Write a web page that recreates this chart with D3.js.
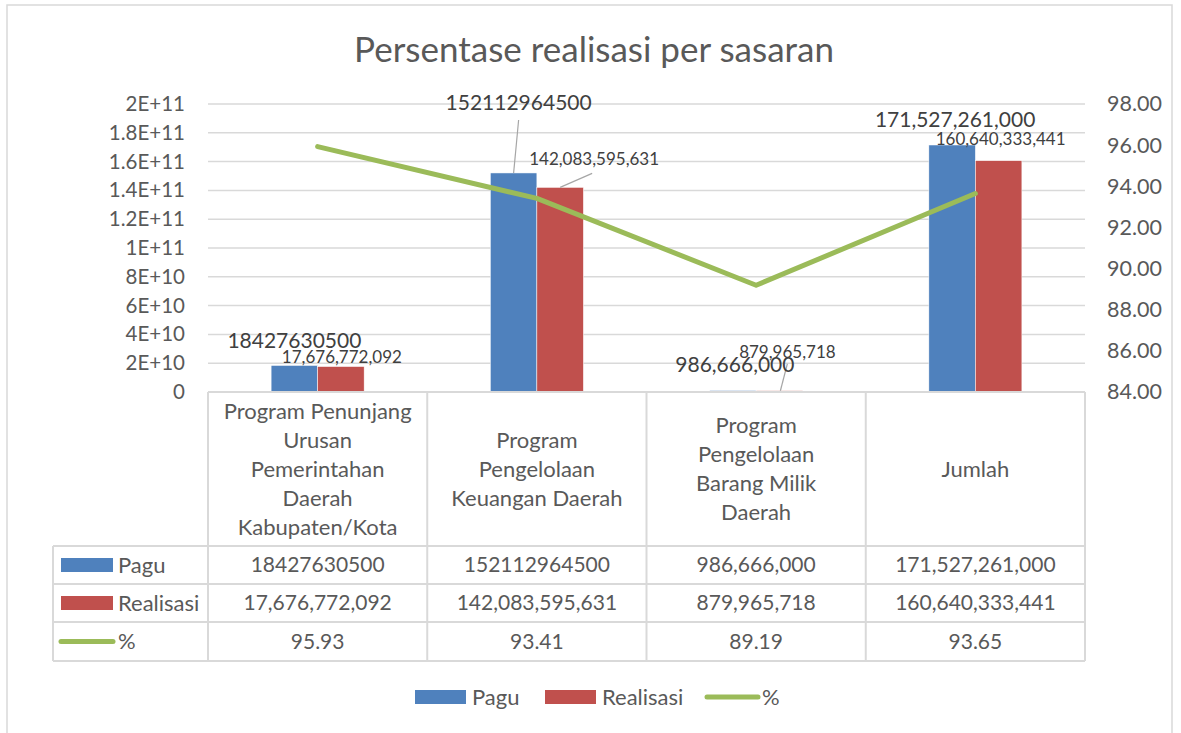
<!DOCTYPE html>
<html>
<head>
<meta charset="utf-8">
<script src="https://cdn.jsdelivr.net/npm/d3@7"></script>
<style>
  body { margin: 0; background: #fff; }
  svg { font-family: Lato, "Open Sans", sans-serif; }
</style>
</head>
<body>
<script>
// chart data
var categories = [
  "Program Penunjang\nUrusan\nPemerintahan\nDaerah\nKabupaten/Kota",
  "Program\nPengelolaan\nKeuangan Daerah",
  "Program\nPengelolaan\nBarang Milik\nDaerah",
  "Jumlah"
];
var pagu = [18427630500, 152112964500, 986666000, 171527261000];
var realisasi = [17676772092, 142083595631, 879965718, 160640333441];
var persen = [95.93, 93.41, 89.19, 93.65];
var paguText = ["18427630500", "152112964500", "986,666,000", "171,527,261,000"];
var realText = ["17,676,772,092", "142,083,595,631", "879,965,718", "160,640,333,441"];
var persenText = ["95.93", "93.41", "89.19", "93.65"];
var leftTicks = [0, 2e10, 4e10, 6e10, 8e10, 1e11, 1.2e11, 1.4e11, 1.6e11, 1.8e11, 2e11];
var leftTickText = ["0", "2E+10", "4E+10", "6E+10", "8E+10", "1E+11", "1.2E+11", "1.4E+11", "1.6E+11", "1.8E+11", "2E+11"];
var rightTicks = [84, 86, 88, 90, 92, 94, 96, 98];

var blue = "#4f81bd", red = "#c0504d", green = "#9bbb59";
var grid = "#d9d9d9", txt = "#595959";

var svg = d3.select("body").append("svg")
  .attr("width", 1181)
  .attr("height", 733);

// outer border
svg.append("rect")
  .attr("x", 7).attr("y", 5).attr("width", 1165).attr("height", 740)
  .attr("fill", "none").attr("stroke", grid).attr("stroke-width", 1.5);

svg.append("text")
  .attr("x", 594).attr("y", 62)
  .attr("text-anchor", "middle")
  .attr("font-size", 35)
  .attr("fill", txt)
  .text("Persentase realisasi per sasaran");

var x = d3.scaleBand().domain(d3.range(categories.length)).range([208, 1085]);
var xs = d3.scaleBand().domain([0, 1]).range([0, x.bandwidth()]).paddingOuter(1.357);
var y = d3.scaleLinear().domain([0, 2e11]).range([392, 104]);
var y2 = d3.scaleLinear().domain([84, 98]).range([392, 104]);

// gridlines
svg.append("g").selectAll("line")
  .data(leftTicks.slice(1))
  .enter().append("line")
  .attr("x1", 208).attr("x2", 1085)
  .attr("y1", function(d) { return y(d); })
  .attr("y2", function(d) { return y(d); })
  .attr("stroke", grid).attr("stroke-width", 1.5);

// left axis
var yAxis = d3.axisLeft(y).tickValues(leftTicks).tickSize(0).tickPadding(0)
  .tickFormat(function(d, i) { return leftTickText[i]; });
var gl = svg.append("g").attr("transform", "translate(185,0)").call(yAxis);
gl.select(".domain").remove();
gl.selectAll("text").attr("font-size", 20.5).attr("fill", txt).attr("font-family", "Lato");

// right axis
var y2Axis = d3.axisRight(y2).tickValues(rightTicks).tickSize(0).tickPadding(0)
  .tickFormat(d3.format(".2f"));
var gr = svg.append("g").attr("transform", "translate(1107,0)").call(y2Axis);
gr.select(".domain").remove();
gr.selectAll("text").attr("font-size", 21.5).attr("fill", txt).attr("font-family", "Lato");

// bars
var series = [pagu, realisasi];
var colors = [blue, red];
series.forEach(function(vals, s) {
  svg.append("g").selectAll("rect")
    .data(vals)
    .enter().append("rect")
    .attr("x", function(d, i) { return x(i) + xs(s); })
    .attr("width", xs.bandwidth())
    .attr("y", function(d) { return y(d); })
    .attr("height", function(d) { return y(0) - y(d); })
    .attr("fill", colors[s])
    .attr("stroke", "#fff").attr("stroke-width", 0.5);
});

// line
var line = d3.line()
  .x(function(d, i) { return x(i) + x.bandwidth() / 2; })
  .y(function(d) { return y2(d); });
svg.append("path")
  .datum(persen)
  .attr("d", line)
  .attr("fill", "none")
  .attr("stroke", green)
  .attr("stroke-width", 5)
  .attr("stroke-linecap", "round")
  .attr("stroke-linejoin", "round");

// data labels (offsets from bar top, as dragged in the original)
var paguOff = [[0, -25], [5, -70], [2, -26], [3, -25]];
var realOff = [[1, -9], [34, -28], [8, -39], [2, -22]];

function barCx(i, s) { return x(i) + xs(s) + xs.bandwidth() / 2; }

// leader lines
var leaders = [
  { i: 1, s: 0, from: [5, -53], to: [0, 0] },
  { i: 1, s: 1, from: [32, -14], to: [0, 0] },
  { i: 2, s: 1, from: [8, -27], to: [1, 0] }
];
leaders.forEach(function(l) {
  var v = l.s === 0 ? pagu[l.i] : realisasi[l.i];
  var cx = barCx(l.i, l.s), ty = y(v);
  svg.append("line")
    .attr("x1", cx + l.from[0]).attr("y1", ty + l.from[1])
    .attr("x2", cx + l.to[0]).attr("y2", ty + l.to[1])
    .attr("stroke", "#a6a6a6").attr("stroke-width", 1.2);
});

svg.append("g").selectAll("text")
  .data(pagu)
  .enter().append("text")
  .attr("x", function(d, i) { return barCx(i, 0) + paguOff[i][0]; })
  .attr("y", function(d, i) { return y(d) + paguOff[i][1]; })
  .attr("dy", "0.35em")
  .attr("text-anchor", "middle")
  .attr("font-size", 21)
  .attr("fill", "#404040")
  .text(function(d, i) { return paguText[i]; });

svg.append("g").selectAll("text")
  .data(realisasi)
  .enter().append("text")
  .attr("x", function(d, i) { return barCx(i, 1) + realOff[i][0]; })
  .attr("y", function(d, i) { return y(d) + realOff[i][1]; })
  .attr("dy", "0.35em")
  .attr("text-anchor", "middle")
  .attr("font-size", 17)
  .attr("fill", "#404040")
  .text(function(d, i) { return realText[i]; });

// data table
var rowY = [392, 546, 584, 622, 661];
var tbl = svg.append("g").attr("stroke", grid).attr("stroke-width", 2);
tbl.append("line").attr("x1", 208).attr("x2", 1085).attr("y1", rowY[0]).attr("y2", rowY[0]);
rowY.slice(1).forEach(function(ry) {
  tbl.append("line").attr("x1", 53).attr("x2", 1085).attr("y1", ry).attr("y2", ry);
});
tbl.append("line").attr("x1", 53).attr("x2", 53).attr("y1", rowY[1]).attr("y2", rowY[4]);
d3.range(categories.length + 1).forEach(function(k) {
  var cx = k < categories.length ? x(k) : x(categories.length - 1) + x.bandwidth();
  tbl.append("line").attr("x1", cx).attr("x2", cx).attr("y1", rowY[0]).attr("y2", rowY[4]);
});

// header category text
categories.forEach(function(c, i) {
  var lines = c.split("\n");
  var midY = (rowY[0] + rowY[1]) / 2;
  var lh = 29;
  var t = svg.append("text")
    .attr("text-anchor", "middle")
    .attr("font-size", 22)
    .attr("fill", txt);
  lines.forEach(function(ln, j) {
    t.append("tspan")
      .attr("x", x(i) + x.bandwidth() / 2)
      .attr("y", midY + (j - (lines.length - 1) / 2) * lh)
      .attr("dy", "0.35em")
      .text(ln);
  });
});

// table values
var tableRows = [paguText, realText, persenText];
tableRows.forEach(function(row, r) {
  var cy = (rowY[r + 1] + rowY[r + 2]) / 2;
  svg.append("g").selectAll("text")
    .data(row)
    .enter().append("text")
    .attr("x", function(d, i) { return x(i) + x.bandwidth() / 2; })
    .attr("y", cy)
    .attr("dy", "0.35em")
    .attr("text-anchor", "middle")
    .attr("font-size", 21)
    .attr("fill", txt)
    .text(function(d) { return d; });
});

// legend keys in table
var keyNames = ["Pagu", "Realisasi", "%"];
keyNames.forEach(function(k, r) {
  var cy = (rowY[r + 1] + rowY[r + 2]) / 2;
  if (r < 2) {
    svg.append("rect").attr("x", 61).attr("y", cy - 7).attr("width", 52).attr("height", 14).attr("fill", colors[r]);
  } else {
    svg.append("line").attr("x1", 61).attr("x2", 113).attr("y1", cy).attr("y2", cy)
      .attr("stroke", green).attr("stroke-width", 5).attr("stroke-linecap", "round");
  }
  svg.append("text").attr("x", 118).attr("y", cy).attr("dy", "0.35em")
    .attr("font-size", 22).attr("fill", txt).text(k);
});

// bottom legend
var legX = [415, 545, 705];
keyNames.forEach(function(k, r) {
  var cy = 697;
  if (r < 2) {
    svg.append("rect").attr("x", legX[r]).attr("y", cy - 7).attr("width", 51).attr("height", 14).attr("fill", colors[r]);
  } else {
    svg.append("line").attr("x1", legX[r] + 2).attr("x2", legX[r] + 53).attr("y1", cy).attr("y2", cy)
      .attr("stroke", green).attr("stroke-width", 5).attr("stroke-linecap", "round");
  }
  svg.append("text").attr("x", legX[r] + 57).attr("y", cy).attr("dy", "0.35em")
    .attr("font-size", 22).attr("fill", txt).text(k);
});
</script>
</body>
</html>
